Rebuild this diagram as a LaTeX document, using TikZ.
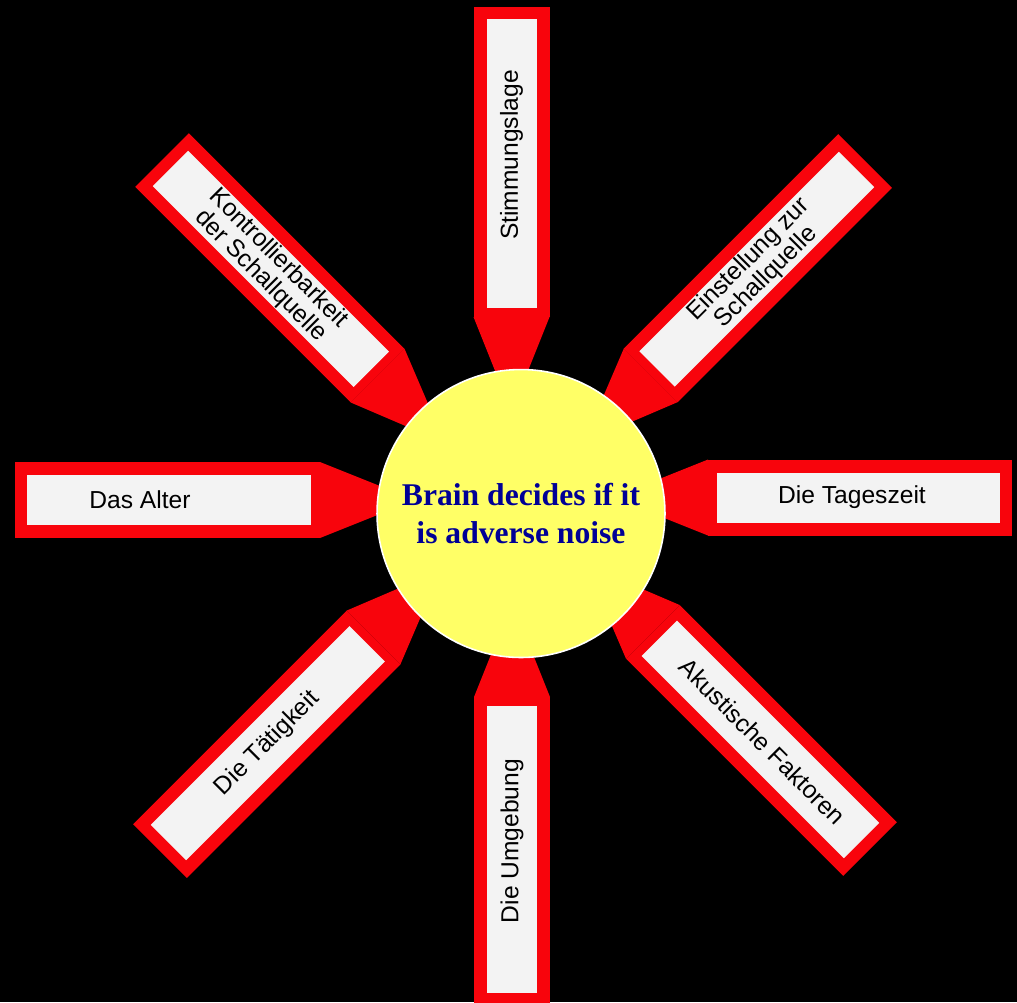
\documentclass[tikz,border=0pt]{standalone}
\usepackage{fontspec}
\setmainfont{Liberation Serif}
\newfontfamily\labelfont{Liberation Sans}
\usetikzlibrary{calc}

\definecolor{pencilred}{RGB}{248,4,12}
\definecolor{paper}{RGB}{243,243,243}
\definecolor{sunyellow}{RGB}{255,255,102}
\definecolor{brainblue}{RGB}{0,0,150}

\tikzset{
  pencil/.style={fill=pencilred, draw=none},
  labelbox/.style={fill=paper, draw=none},
  factor/.style={font=\labelfont\fontsize{14}{14.2}\selectfont, align=center,
    text=black, inner sep=0pt},
  brain/.style={circle, fill=sunyellow, draw=white, line width=0.9pt,
    minimum size=5.76cm, inner sep=0pt, align=center, text=brainblue,
    font=\fontsize{18}{21.5}\selectfont\bfseries}
}

\begin{document}
\begin{tikzpicture}[x=0.02cm, y=-0.02cm]
        % Background
        \fill[black] (0,0) rectangle (1017,1002);
        \clip (0,0) rectangle (1017,1002);

        % Pencils: far end / direction / body length / text pos / text angle / name / text
        \foreach \x/\y/\a/\len/\tp/\ta/\name/\txt in {
            511.5/7/-90/310/148/90/mood/{Stimmungslage},
            512/1005/90/308/164/90/env/{Die Umgebung},
            15/500/0/305/125/0/age/{Das Alter},
            1012/497.5/180/304/160/0/daytime/{Die Tageszeit},
            162/160/-45/305/152/-45/control/{Kontrollierbarkeit\\der Schallquelle},
            865/161/-135/303/152/45/attitude/{Einstellung zur\\Schallquelle},
            160/851/45/302/152/45/activity/{Die Tätigkeit},
            870/849/135/307/152/-45/acoustic/{Akustische Faktoren}} {
            \begin{scope}[shift={(\x,\y)}, rotate=\a]
                \fill[pencil] (0,-38) rectangle (\len,38);
                \fill[pencil] (\len,-38) -- (\len+95,0) -- (\len,38) -- cycle;
                \fill[labelbox] (12,-25) rectangle (\len-9,25);
                \node[factor, rotate=\ta] (\name) at (\tp,0) {\txt};
            \end{scope}
        }

        % Centre circle
        \node[brain] (brain) at (521,513.5) {Brain decides if it\\is adverse noise};
\end{tikzpicture}
\end{document}
